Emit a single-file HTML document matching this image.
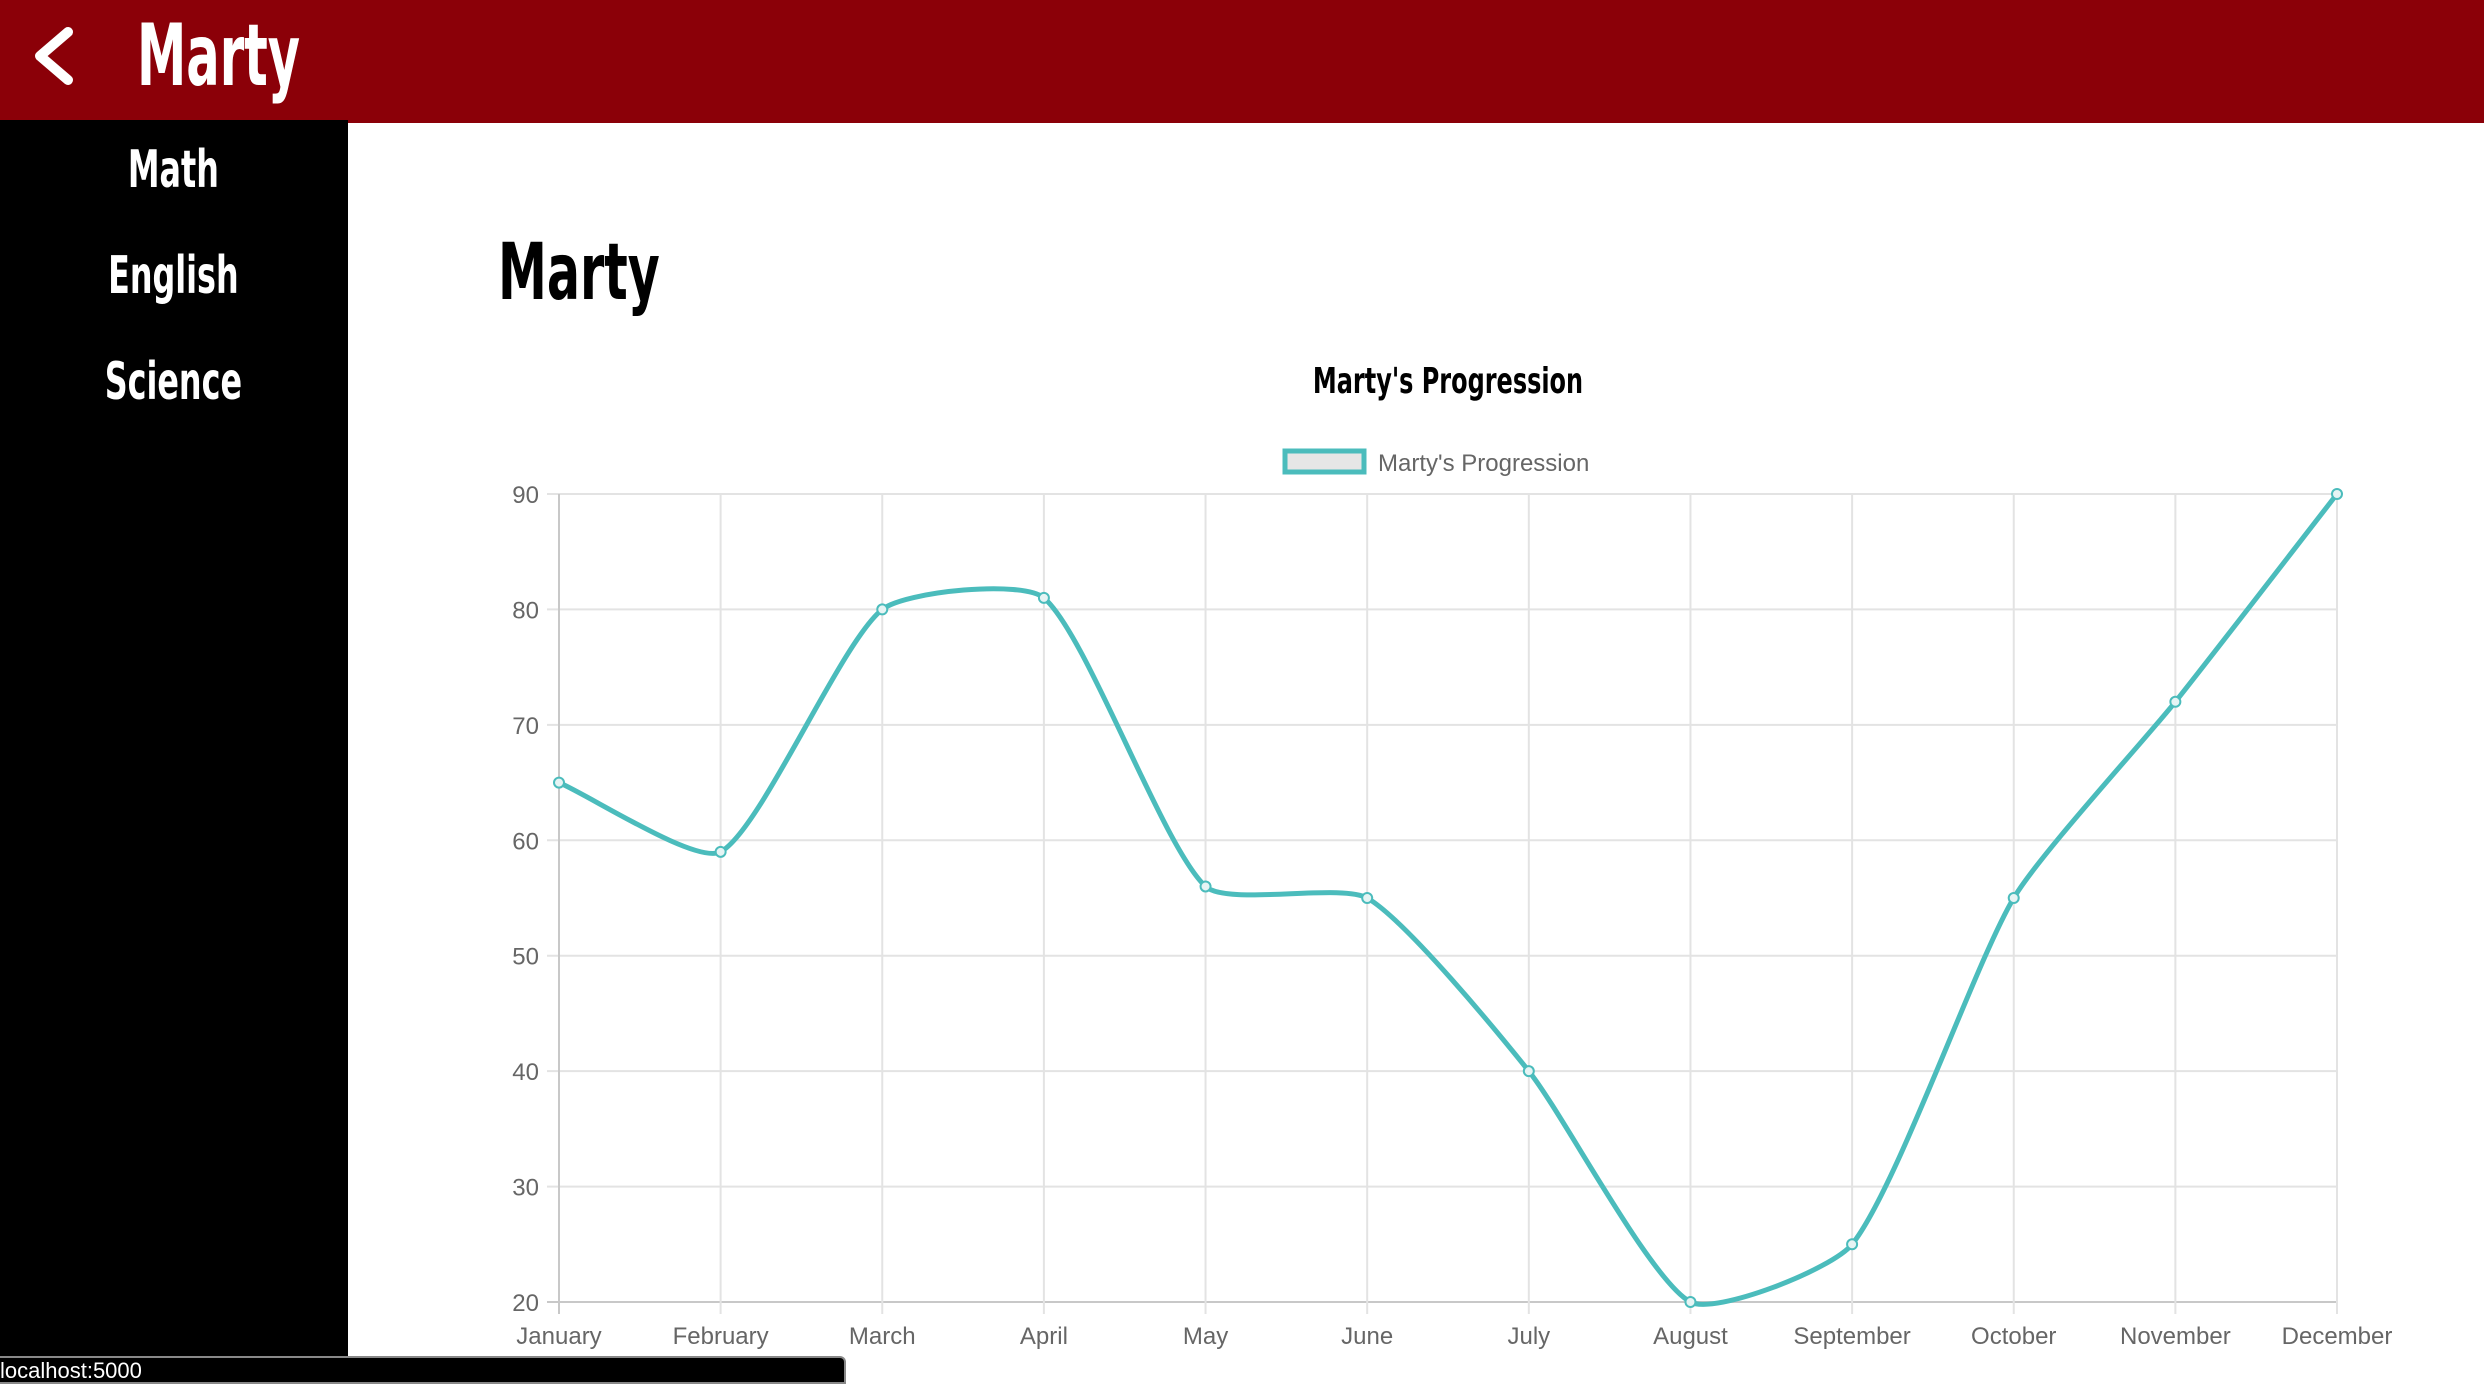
<!DOCTYPE html>
<html><head><meta charset="utf-8"><style>
body{margin:0;width:2484px;height:1376px;overflow:hidden;background:#fff;font-family:"Liberation Sans",sans-serif;position:relative}
.imp{font-family:"DejaVu Sans Condensed","DejaVu Sans","Liberation Sans",sans-serif;font-weight:bold;white-space:nowrap}
#hdr{position:absolute;left:0;top:0;width:2484px;height:123px;background:#8b0008}
#side{position:absolute;left:0;top:120px;width:348px;height:1256px;background:#000}
.nav{position:absolute;left:0;width:348px;text-align:center;color:#fff;font-size:52px;transform:scaleX(0.68);transform-origin:172px 0}
#status{position:absolute;left:0;top:1356px;width:844px;height:24px;background:#000;border:2px solid #888;border-left:none;border-radius:0 6px 0 0;color:#fff;font-size:22px;line-height:26px}
</style></head><body>
<div id="hdr">
<svg style="position:absolute;left:28px;top:26px" width="48" height="60"><polyline points="40,6 12,30 40,54" fill="none" stroke="#fff" stroke-width="10" stroke-linecap="round" stroke-linejoin="round"/></svg>
<div class="imp" style="position:absolute;left:137px;top:6px;color:#fff;font-size:86px;transform:scaleX(0.64);transform-origin:0 0">Marty</div>
</div>
<div id="side">
<div class="nav imp" style="top:20px">Math</div>
<div class="nav imp" style="top:126px">English</div>
<div class="nav imp" style="top:232px">Science</div>
</div>
<div class="imp" style="position:absolute;left:498px;top:228px;font-size:78px;transform:scaleX(0.7);transform-origin:0 0">Marty</div>
<svg id="chart" style="position:absolute;left:0;top:0" width="2484" height="1376"></svg>
<div id="status">localhost:5000</div>
<script>
const categories=["January","February","March","April","May","June","July","August","September","October","November","December"];
const values=[65,59,80,81,56,55,40,20,25,55,72,90];
const yTicks=[20,30,40,50,60,70,80,90];
const NS="http://www.w3.org/2000/svg";
const svg=document.getElementById('chart');
const X0=559,X1=2337,Y0=1302,Y1=494,YMIN=20,YMAX=90;
const xs=i=>X0+(X1-X0)*i/(categories.length-1);
const ys=v=>Y0-(Y0-Y1)*(v-YMIN)/(YMAX-YMIN);
function mk(t,a,txt){const e=document.createElementNS(NS,t);for(const k in a)e.setAttribute(k,a[k]);if(txt!==undefined)e.textContent=txt;svg.appendChild(e);return e;}
let e;
e=mk('text',{x:1448,y:393,'text-anchor':'middle','font-size':36,'font-weight':'bold','font-family':'"DejaVu Sans Condensed",sans-serif',transform:'translate(1448 0) scale(0.74 1) translate(-1448 0)'},"Marty's Progression");


e=mk('rect',{x:1285,y:451,width:79,height:21,fill:'#e6e6e6',stroke:'#4bbcbc','stroke-width':5});


e=mk('text',{x:1378,y:471,'font-size':24,fill:'#666'},"Marty's Progression");


yTicks.forEach(t=>{
 e=mk('line',{x1:547,x2:X1,y1:ys(t),y2:ys(t),stroke:t===YMIN?'#c8c8c8':'#e3e3e3','stroke-width':2});
 
 
 e=mk('text',{x:539,y:ys(t)+9,'text-anchor':'end','font-size':24,fill:'#666'},t);
 
 
});
categories.forEach((c,i)=>{
 e=mk('line',{x1:xs(i),x2:xs(i),y1:Y1,y2:Y0+12,stroke:i===0?'#c8c8c8':'#e3e3e3','stroke-width':2});
 
 
 e=mk('text',{x:xs(i),y:1344,'text-anchor':'middle','font-size':24,fill:'#666'},c);
 
 
});
const P=values.map((v,i)=>[xs(i),ys(v)]);
const T=0.2;
let d='M'+P[0][0]+','+P[0][1];
const cp=P.map((p,i)=>{
 const pr=P[i-1]||p,nx=P[i+1]||p;
 const d01=Math.hypot(p[0]-pr[0],p[1]-pr[1]),d12=Math.hypot(nx[0]-p[0],nx[1]-p[1]);
 let fa=d01/(d01+d12)||0,fb=d12/(d01+d12)||0;fa*=T;fb*=T;
 return {p:[p[0]-fa*(nx[0]-pr[0]),p[1]-fa*(nx[1]-pr[1])],n:[p[0]+fb*(nx[0]-pr[0]),p[1]+fb*(nx[1]-pr[1])]};
});
for(let i=1;i<P.length;i++){d+=' C'+cp[i-1].n.join(',')+' '+cp[i].p.join(',')+' '+P[i].join(',');}
e=mk('path',{d:d,fill:'none',stroke:'#4bbcbc','stroke-width':5});


P.forEach(p=>{
 e=mk('circle',{cx:p[0],cy:p[1],r:5,fill:'#e6f4f4',stroke:'#4bbcbc','stroke-width':2});
 
 
});
</script>
</body></html>
